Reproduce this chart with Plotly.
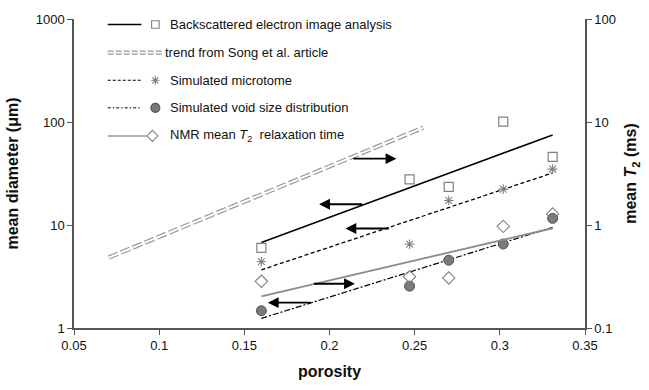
import numpy as np
import plotly.graph_objects as go

# Porosity of the samples
porosity = [0.16, 0.247, 0.27, 0.302, 0.331]

# Mean diameters (µm)
bse_diam = [6.0, 27.7, 23.5, 101, 45.9]
microtome_diam = [4.4, 6.5, 17.3, 22.3, 34.9]
void_diam = [1.47, 2.55, 4.55, 6.54, 11.6]

# NMR mean T2 relaxation time (ms)
nmr_t2 = [0.284, 0.315, 0.306, 0.97, 1.28]

# Exponential trend lines (end points)
fit_x = [0.16, 0.331]
bse_fit = [6.77, 74.9]
microtome_fit = [3.67, 32.0]
void_fit = [1.24, 9.5]
nmr_fit = [0.203, 0.93]

song_x = [0.0704, 0.255]
song_diam = [4.83, 88.0]

# Arrows pointing at the relevant axis: (tail x, head x, y in µm)
arrows = [
    (0.2131, 0.2393, 44.0),
    (0.2201, 0.1939, 15.9),
    (0.2357, 0.2094, 9.25),
    (0.1900, 0.2149, 2.69),
    (0.1900, 0.1638, 1.76),
]

legend_labels = [
    "Backscattered electron image analysis",
    "trend from Song et al. article",
    "Simulated microtome",
    "Simulated void size distribution",
    "NMR mean <i>T</i><sub>2</sub>  relaxation time",
]

FONT = "Liberation Sans, Arial, sans-serif"
AX = "#555555"
MK = "#808080"

fig = go.Figure()

# Song et al. trend: double dashed grey line
fig.add_trace(go.Scatter(x=song_x, y=song_diam, mode="lines",
                         line=dict(color="#9a9a9a", width=4.4, dash="10px,3px"),
                         hoverinfo="skip"))
fig.add_trace(go.Scatter(x=song_x, y=song_diam, mode="lines",
                         line=dict(color="white", width=2.0, dash="10px,3px"),
                         hoverinfo="skip"))

# Fits
fig.add_trace(go.Scatter(x=fit_x, y=bse_fit, mode="lines",
                         line=dict(color="black", width=1.5)))
fig.add_trace(go.Scatter(x=fit_x, y=microtome_fit, mode="lines",
                         line=dict(color="black", width=1.3, dash="4px,2.5px")))
fig.add_trace(go.Scatter(x=fit_x, y=void_fit, mode="lines",
                         line=dict(color="black", width=1.2, dash="6px,2px,2px,2px")))
fig.add_trace(go.Scatter(x=fit_x, y=nmr_fit, mode="lines", yaxis="y2",
                         line=dict(color="#8c8c8c", width=1.8)))

# Measurements
fig.add_trace(go.Scatter(x=porosity, y=bse_diam, mode="markers",
                         marker=dict(symbol="square-open", size=9, color=MK,
                                     line=dict(width=1.2))))
fig.add_trace(go.Scatter(x=porosity, y=microtome_diam, mode="markers",
                         marker=dict(symbol="asterisk-open", size=8, color=MK,
                                     line=dict(width=1.1, color=MK))))
fig.add_trace(go.Scatter(x=porosity, y=void_diam, mode="markers",
                         marker=dict(symbol="circle", size=10, color="#7a7a7a",
                                     line=dict(width=1, color="#555555"))))
fig.add_trace(go.Scatter(x=porosity, y=nmr_t2, mode="markers", yaxis="y2",
                         marker=dict(symbol="diamond-open", size=9.5, color=MK,
                                     line=dict(width=1.1))))

# Legend drawn on a pixel-scaled overlay of the plot area
L0, L1, T0, B0 = 73, 588, 16, 335
rows = [21.7, 50.7, 79.3, 107.7, 136.7]
lx0, lx1, mx, tx = 107, 141, 155, 168

def leg_line(y, x1, **line):
    fig.add_trace(go.Scatter(x=[lx0, x1], y=[y, y], mode="lines", xaxis="x2", yaxis="y3",
                             line=line, hoverinfo="skip"))

leg_line(rows[0], lx1, color="black", width=1.5)
leg_line(rows[1], 163, color="#9a9a9a", width=4.2, dash="6px,2px")
leg_line(rows[1], 163, color="white", width=1.8, dash="6px,2px")
leg_line(rows[2], lx1, color="black", width=1.1, dash="3px,2px")
leg_line(rows[3], lx1, color="black", width=1.0, dash="3px,2px,1.5px,2px")
leg_line(rows[4], 146, color="#9a9a9a", width=1.5)

leg_sym = [("square-open", 7.5, MK, 155), ("asterisk-open", 7, MK, 155),
           ("circle", 9, "#7a7a7a", 155), ("diamond-open", 8.5, MK, 152)]
for (sym, sz, col, xm), yy in zip(leg_sym, [rows[0], rows[2], rows[3], rows[4]]):
    fig.add_trace(go.Scatter(x=[xm], y=[yy], mode="markers",
                             xaxis="x2", yaxis="y3", hoverinfo="skip",
                             marker=dict(symbol=sym, size=sz, color=col,
                                         line=dict(width=1.1, color=col if sym != "circle" else "#555"))))

annotations = []
for i, (lab, yy) in enumerate(zip(legend_labels, rows)):
    annotations.append(dict(x=tx if i != 1 else 163, y=yy, xref="x2", yref="y3",
                            text=lab, showarrow=False, xanchor="left", yanchor="middle",
                            font=dict(family=FONT, size=13, color="#111")))

for x_tail, x_head, yv in arrows:
    annotations.append(dict(x=x_head, y=np.log10(yv), ax=x_tail, ay=np.log10(yv),
                            xref="x", yref="y", axref="x", ayref="y",
                            showarrow=True, arrowhead=2, arrowsize=1.2, arrowwidth=1.8,
                            arrowcolor="black", text=""))

tickfont = dict(family=FONT, size=13, color="#111")
titlefont = dict(family=FONT, size=16, color="#111")

fig.update_layout(
    width=649, height=390,
    margin=dict(l=L0, r=649 - L1, t=T0, b=390 - B0),
    plot_bgcolor="white", paper_bgcolor="white",
    showlegend=False,
    annotations=annotations,
    xaxis=dict(range=[0.05, 0.35], dtick=0.05, showgrid=False, zeroline=False,
               showline=True, linecolor=AX, linewidth=1.5, ticks="outside",
               ticklen=5, tickcolor=AX, tickwidth=1.2, tickfont=tickfont,
               title=dict(text="<b>porosity</b>", font=titlefont, standoff=13)),
    yaxis=dict(type="log", range=[0, 3], tickvals=[1, 10, 100, 1000],
               ticktext=["1", "10", "100", "1000"], showgrid=False, zeroline=False,
               showline=True, linecolor=AX, linewidth=1.5, ticks="outside",
               ticklen=5, tickcolor=AX, tickwidth=1.2, tickfont=tickfont,
               title=dict(text="<b>mean diameter (μm)</b>", font=titlefont, standoff=13)),
    yaxis2=dict(type="log", range=[-1, 2], tickvals=[0.1, 1, 10, 100],
                ticktext=["0.1", "1", "10", "100"], overlaying="y", side="right",
                showgrid=False, zeroline=False, showline=True, linecolor=AX,
                linewidth=1.5, ticks="outside", ticklen=5, tickcolor=AX, tickwidth=1.2,
                tickfont=tickfont,
                title=dict(text="<b>mean <i>T</i><sub>2</sub> (ms)</b>", font=titlefont,
                           standoff=10)),
    xaxis2=dict(range=[L0, L1], overlaying="x", visible=False, fixedrange=True),
    yaxis3=dict(range=[B0, T0], overlaying="y", visible=False, fixedrange=True),
)

fig.write_html("out.html")
